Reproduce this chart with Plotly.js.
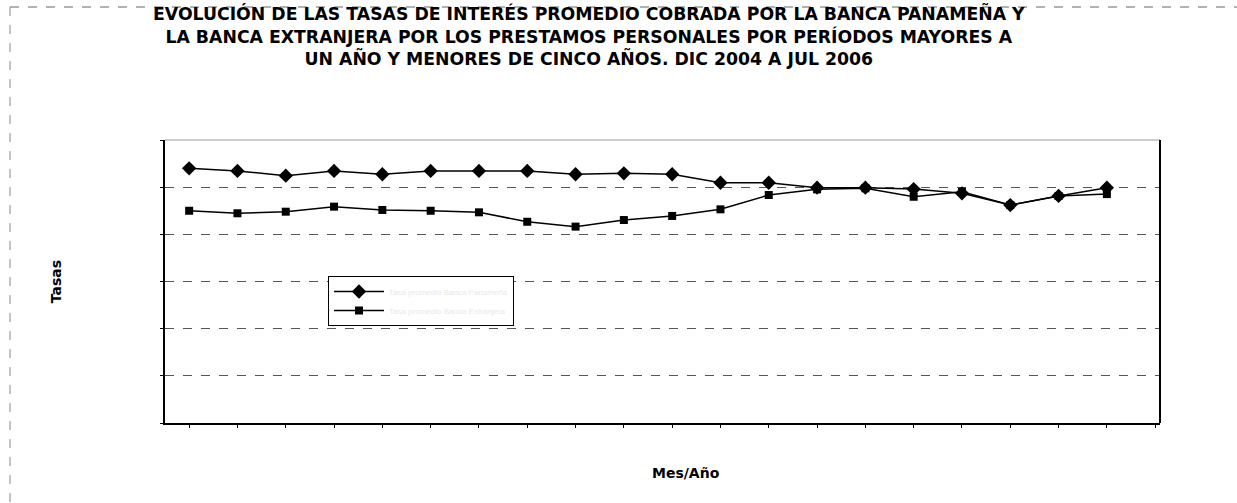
<!DOCTYPE html>
<html>
<head>
<meta charset="utf-8">
<script src="https://cdn.plot.ly/plotly-3.0.1.min.js"></script>
<style>html,body{margin:0;padding:0;background:#fff;}#chart{width:1237px;height:503px;}</style>
</head>
<body>
<div id="chart"></div>
<script>
// Months Dec 2004 - Jul 2006
const meses = ["Dic-04","Ene-05","Feb-05","Mar-05","Abr-05","May-05","Jun-05","Jul-05","Ago-05","Sep-05","Oct-05","Nov-05","Dic-05","Ene-06","Feb-06","Mar-06","Abr-06","May-06","Jun-06","Jul-06"];
const bancaPanamena = [16.20,16.03,15.73,16.03,15.82,16.03,16.03,16.03,15.82,15.88,15.82,15.28,15.28,14.97,14.97,14.88,14.61,13.86,14.44,14.97];
const bancaExtranjera = [13.50,13.34,13.44,13.76,13.55,13.50,13.40,12.80,12.49,12.91,13.17,13.59,14.50,14.86,14.93,14.39,14.71,13.86,14.44,14.56];
const nombres = ["Tasa promedio Banca Panameña","Tasa promedio Banca Extranjera"];
const xIdx = meses.map((m,i)=>i);

const font = "Liberation Sans, Arial, sans-serif";
const tfont = "DejaVu Sans, Verdana, sans-serif";
const traces = [
  {x:xIdx, y:bancaPanamena, name:nombres[0], mode:"lines+markers", text:meses,
   line:{color:"#000",width:1.5}, marker:{symbol:"diamond",size:11,color:"#000"}},
  {x:xIdx, y:bancaExtranjera, name:nombres[1], mode:"lines+markers", text:meses,
   line:{color:"#000",width:1.5}, marker:{symbol:"square",size:8,color:"#000"}}
];

const layout = {
  width:1237, height:503,
  margin:{l:165, r:77, t:140, b:80},
  paper_bgcolor:"#fff", plot_bgcolor:"#fff",
  font:{family:font, color:"#000"},
  title:{text:"<b>EVOLUCIÓN DE LAS TASAS DE INTERÉS PROMEDIO COBRADA POR LA BANCA PANAMEÑA Y<br>LA BANCA EXTRANJERA POR LOS PRESTAMOS PERSONALES POR PERÍODOS MAYORES A<br>UN AÑO Y MENORES DE CINCO AÑOS. DIC 2004 A JUL 2006</b>",
         font:{family:tfont, size:17.3, color:"#000"}, x:0.476, xanchor:"center", y:0.96, yanchor:"top"},
  xaxis:{range:[-0.5,20.1], showgrid:false, zeroline:false, showticklabels:false,
         showline:true, linecolor:"#000", linewidth:2, ticks:"outside", ticklen:3, tickcolor:"#000", dtick:1},
  yaxis:{range:[0,18], dtick:3, showgrid:true, gridcolor:"#555", gridwidth:1, griddash:"dash",
         zeroline:false, showticklabels:false, showline:true, linecolor:"#000", linewidth:2,
         ticks:"outside", ticklen:3, tickcolor:"#000",
         title:{text:"<b>Tasas</b>", font:{family:tfont,size:14,color:"#000"}, standoff:95}},
  annotations:[
    {text:"<b>Mes/Año</b>", xref:"paper", yref:"paper", x:(686-165)/995, y:(423-473)/283,
     xanchor:"center", yanchor:"middle", showarrow:false, font:{family:tfont,size:14,color:"#000"}}
  ],
  showlegend:true,
  legend:{x:(328-165)/995, y:(423-276)/283, xanchor:"left", yanchor:"top",
          bgcolor:"#fff", bordercolor:"#000", borderwidth:1,
          font:{family:font,size:8,color:"#e8e8e8"}, itemwidth:50, tracegroupgap:0},
  shapes:[
    {type:"line", xref:"paper", yref:"paper", x0:0, x1:1, y0:1, y1:1, line:{color:"#999",width:1}},
    {type:"line", xref:"paper", yref:"paper", x0:1, x1:1, y0:0, y1:1, line:{color:"#000",width:2}},
    {type:"line", xref:"paper", yref:"paper", x0:(10-165)/995, x1:(1237-165)/995, y0:(423-7)/283, y1:(423-7)/283, line:{color:"#666",width:1,dash:"dash"}},
    {type:"line", xref:"paper", yref:"paper", x0:(10-165)/995, x1:(10-165)/995, y0:(423-7)/283, y1:(423-503)/283, line:{color:"#888",width:1,dash:"dash"}}
  ]
};
Plotly.newPlot("chart", traces, layout, {displayModeBar:false, staticPlot:true});
</script>
</body>
</html>
